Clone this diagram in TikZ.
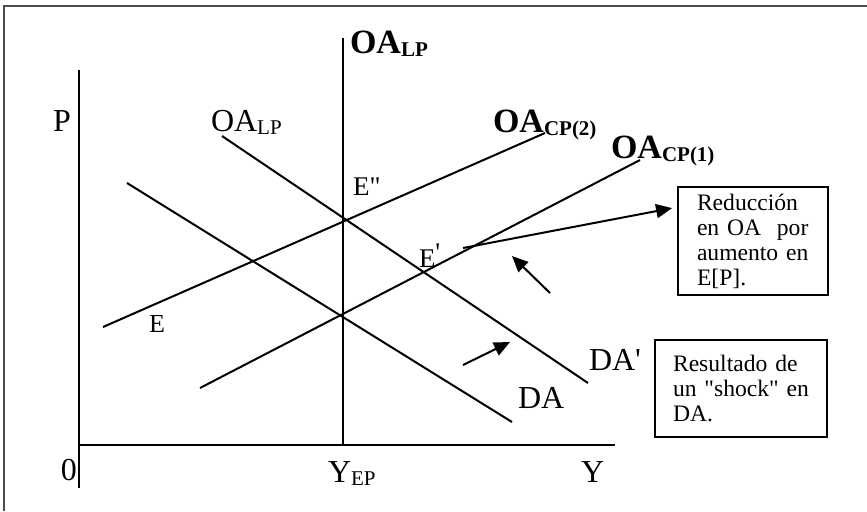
\documentclass[tikz,border=0pt]{standalone}
\usepackage{fontspec}
\setmainfont{Liberation Serif}
\usetikzlibrary{arrows.meta}
\tikzset{every node/.append style={font=\fontsize{16}{18}\selectfont, inner sep=0pt, anchor=base west}}
\tikzset{notebox/.style={draw, line width=1pt, anchor=center, align=left, font=\fontsize{11.8}{12.5}\selectfont}}
\newcommand{\lowsub}[1]{\raisebox{-1.5pt}{\fontsize{10.5}{11}\selectfont #1}}

\begin{document}
\begin{tikzpicture}[x=0.5pt, y=-0.5pt, line width=1pt, >={Triangle[length=8pt,width=7pt]}]
    \useasboundingbox (0,0) rectangle (867,511);
    \draw[black!70, line width=0.8pt] (4,511) -- (4,6) -- (867,6);

    \coordinate (ptop) at (79,70);
    \coordinate (pbot) at (79,488);
    \coordinate (orig) at (79,445);
    \coordinate (yend) at (615,445);
    \draw (ptop) -- (pbot);
    \draw (orig) -- (yend);
    \node (lblP) at (52,131) {P};
    \node (lblzero) at (60,480) {0};
    \node (lblYep) at (327,482) {Y\lowsub{EP}};
    \node (lblY) at (580,482) {Y};

    \coordinate (lptop) at (343,38);
    \coordinate (lpbot) at (343,445);
    \draw (lptop) -- (lpbot);
    \node (lblLPb) at (349,53) {\fontsize{17}{18}\selectfont\bfseries OA\lowsub{LP}};

    \coordinate (dapa) at (222,136);
    \coordinate (dapb) at (588,383);
    \draw (dapa) -- (dapb);
    \node (lblLP) at (210,131) {OA\lowsub{LP}};
    \node (lblDAp) at (588,370) {DA\textquotesingle};

    \coordinate (daa) at (127,183);
    \coordinate (dab) at (512,422);
    \draw (daa) -- (dab);
    \node (lblDA) at (517,408) {DA};

    \coordinate (cpta) at (103,327);
    \coordinate (cptb) at (545,133);
    \draw (cpta) -- (cptb);
    \node (lblCPt) at (492,132) {\fontsize{17}{18}\selectfont\bfseries OA\lowsub{CP(2)}};

    \coordinate (cpoa) at (200,388);
    \coordinate (cpob) at (640,160);
    \draw (cpoa) -- (cpob);
    \node (lblCPo) at (610,158) {\fontsize{17}{18}\selectfont\bfseries OA\lowsub{CP(1)}};

    \node[font=\fontsize{13}{14}\selectfont] (lblE) at (148,332) {E};
    \node[font=\fontsize{13.5}{14}\selectfont] (lblEpp) at (352,195) {E\textquotedbl};
    \node[font=\fontsize{13.5}{14}\selectfont] (lblEp) at (418,267) {E\raisebox{3pt}{\textquotesingle}};

    \node[notebox, text width=56pt, inner xsep=9.5pt, minimum height=54pt] (boxP) at (753,241)
        {Reducción\\en OA~ por\\aumento en\\E[P].};
    \node[notebox, text width=68pt, inner xsep=9pt, minimum height=48.5pt] (boxDA) at (741,388.5)
        {Resultado de\\un \textquotedbl shock\textquotedbl{} en\\DA.};

    \coordinate (tailP) at (463,248);
    \draw[->, shorten >=2.5pt] (tailP) -- (boxP.156);
    \coordinate (tailup) at (550,293);
    \coordinate (tipup) at (512,256);
    \draw[->] (tailup) -- (tipup);
    \coordinate (tailda) at (463,365);
    \coordinate (tipda) at (510,342);
    \draw[->] (tailda) -- (tipda);
\end{tikzpicture}
\end{document}
